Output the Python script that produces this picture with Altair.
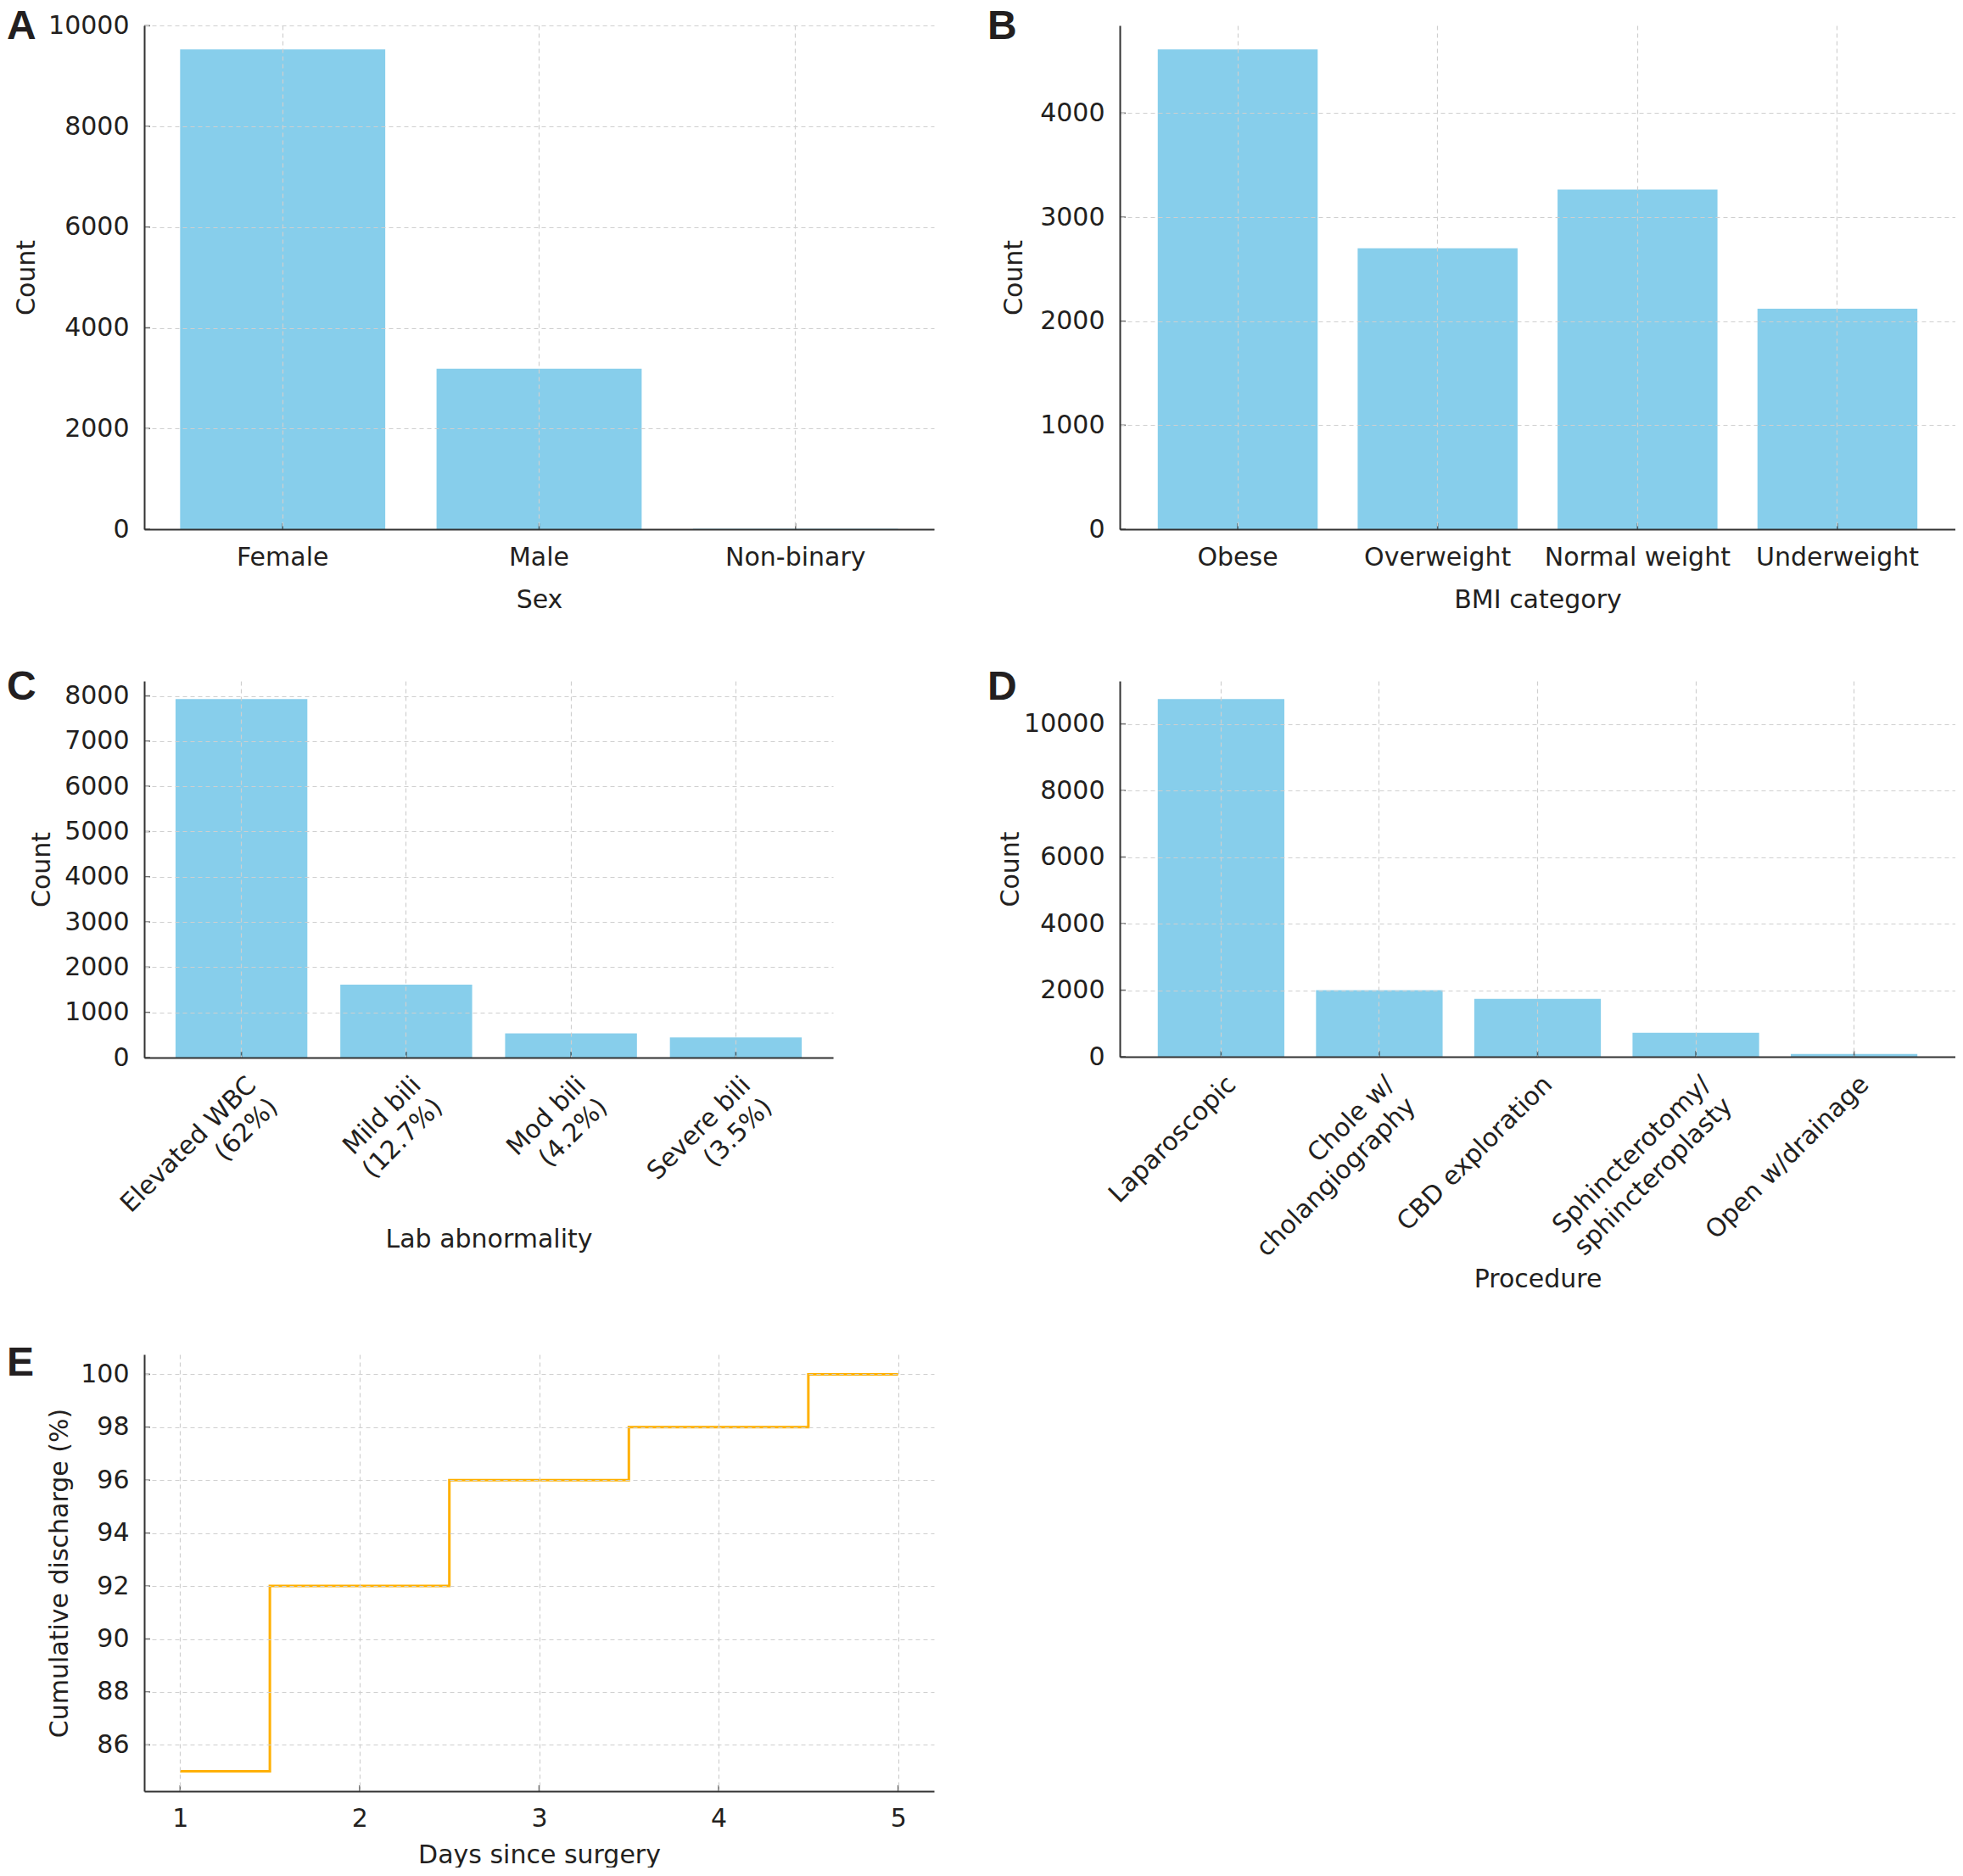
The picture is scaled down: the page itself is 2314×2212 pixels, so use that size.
import altair as alt
import pandas as pd

# ---- data ----
sex_cats = ["Female", "Male", "Non-binary"]
sex_counts = [9530, 3190, 10]

bmi_cats = ["Obese", "Overweight", "Normal weight", "Underweight"]
bmi_counts = [4612, 2700, 3265, 2120]

lab_cats = ["Elevated WBC\n(62%)", "Mild bili\n(12.7%)", "Mod bili\n(4.2%)", "Severe bili\n(3.5%)"]
lab_counts = [7930, 1615, 535, 445]

proc_cats = ["Laparoscopic", "Chole w/\ncholangiography", "CBD exploration",
             "Sphincterotomy/\nsphincteroplasty", "Open w/drainage"]
proc_counts = [10750, 2000, 1740, 720, 80]

days = [1, 2, 3, 4, 5]
discharge_pct = [85, 92, 96, 98, 100]

BAR = "#87CEEB"
LINE = "#FFB000"
TXT = "#231f20"
AXC = "#333333"
FONT = "DejaVu Sans"
FS = 30
TICK = 7


def letter_layer(letter, lx, ly):
    return alt.Chart(pd.DataFrame({"t": [letter]})).mark_text(
        font="Liberation Sans", fontWeight="bold", fontSize=48, align="left",
        baseline="alphabetic", color=TXT
    ).encode(x=alt.value(lx), y=alt.value(ly), text="t:N")


def bar_panel(cats, vals, letter, ydom, yticks, po, w, h, xtitle, ytitle_x,
              xtitle_y, rotated, lx, ly):
    df = pd.DataFrame({"cat": cats, "val": vals})
    tdf = pd.DataFrame({"val": yticks})
    xaxis = dict(title=xtitle, grid=True, bandPosition=0.5, ticks=False,
                 titleY=xtitle_y, titleBaseline="middle", zindex=1,
                 labelLineHeight=36, labelLimit=0)
    if rotated:
        xaxis.update(labelAngle=-45, labelAlign="right", labelBaseline="top",
                     labelPadding=17, labelOffset=2,
                     labelExpr="split(datum.value, '\\n')")
    else:
        xaxis.update(labelAngle=0, labelPadding=18)
    xenc = alt.X("cat:N", sort=cats,
                 scale=alt.Scale(paddingInner=0.2, paddingOuter=po),
                 axis=alt.Axis(**xaxis))
    yenc = alt.Y("val:Q", scale=alt.Scale(domain=ydom, nice=False, zero=True),
                 axis=alt.Axis(title="Count", values=yticks, format="d", grid=True,
                               ticks=False, labelPadding=18, titleX=ytitle_x,
                               titleBaseline="middle", zindex=1))
    bars = alt.Chart(df).mark_bar(color=BAR).encode(x=xenc, y=yenc)
    xt = alt.Chart(df).mark_tick(orient="vertical", color=AXC, size=TICK,
                                 thickness=1.6).encode(x=xenc, y=alt.value(h - TICK / 2))
    yt = alt.Chart(tdf).mark_tick(orient="horizontal", color=AXC, size=TICK,
                                  thickness=1.6).encode(y=yenc, x=alt.value(TICK / 2))
    return alt.layer(bars, xt, yt, letter_layer(letter, lx, ly)).properties(width=w, height=h)


A = bar_panel(sex_cats, sex_counts, "A", [0, 10006], [0, 2000, 4000, 6000, 8000, 10000],
              0.14, 931, 594, "Sex", -139, 83, False, -162, 16)
B = bar_panel(bmi_cats, bmi_counts, "B", [0, 4843], [0, 1000, 2000, 3000, 4000],
              0.19, 985, 594, "BMI category", -125, 83, False, -156, 16)
C = bar_panel(lab_cats, lab_counts, "C", [0, 8330], list(range(0, 8001, 1000)),
              0.19, 812, 444, "Lab abnormality", -121, 214, True, -162, 22)
D = bar_panel(proc_cats, proc_counts, "D", [0, 11290], [0, 2000, 4000, 6000, 8000, 10000],
              0.24, 985, 443, "Procedure", -129, 262, True, -156, 22)

e_ticks = list(range(86, 101, 2))
edf = pd.DataFrame({"day": days, "pct": discharge_pct})
ex = alt.X("day:Q", scale=alt.Scale(domain=[0.8, 5.2], nice=False, zero=False),
           axis=alt.Axis(title="Days since surgery", values=days, format="d", grid=True,
                         ticks=False, labelPadding=17, titleY=75, titleBaseline="middle",
                         zindex=1))
ey = alt.Y("pct:Q", scale=alt.Scale(domain=[84.25, 100.75], nice=False, zero=False),
           axis=alt.Axis(title="Cumulative discharge (%)", values=e_ticks,
                         format="d", grid=True, ticks=False, labelPadding=18, titleX=-100,
                         titleBaseline="middle", zindex=1))
eline = alt.Chart(edf).mark_line(interpolate="step", color=LINE, strokeWidth=3).encode(
    x=ex, y=ey)
ext = alt.Chart(edf).mark_tick(orient="vertical", color=AXC, size=TICK, thickness=1.6).encode(
    x=ex, y=alt.value(515 - TICK / 2))
eyt = alt.Chart(pd.DataFrame({"pct": e_ticks})).mark_tick(
    orient="horizontal", color=AXC, size=TICK, thickness=1.6).encode(
    y=ey, x=alt.value(TICK / 2))
E = alt.layer(eline, ext, eyt, letter_layer("E", -162, 25)).properties(width=931, height=515)

row1 = alt.hconcat(A, B, spacing=63)
row2 = alt.hconcat(C, D, spacing=182)
top = alt.vconcat(row1, row2, spacing=65)

chart = alt.vconcat(top, E, spacing=61).properties(padding=0).configure_view(
    stroke=None
).configure_axis(
    labelFont=FONT, labelFontSize=FS, labelColor=TXT,
    titleFont=FONT, titleFontSize=FS, titleFontWeight="normal", titleColor=TXT,
    domainColor=AXC, domainWidth=2,
    gridColor="#cfcfcf", gridDash=[5, 4], gridWidth=1.2,
).configure_axisY(labelAlign="right")

chart.save("out.html", embed_options={"renderer": "svg", "actions": False})
